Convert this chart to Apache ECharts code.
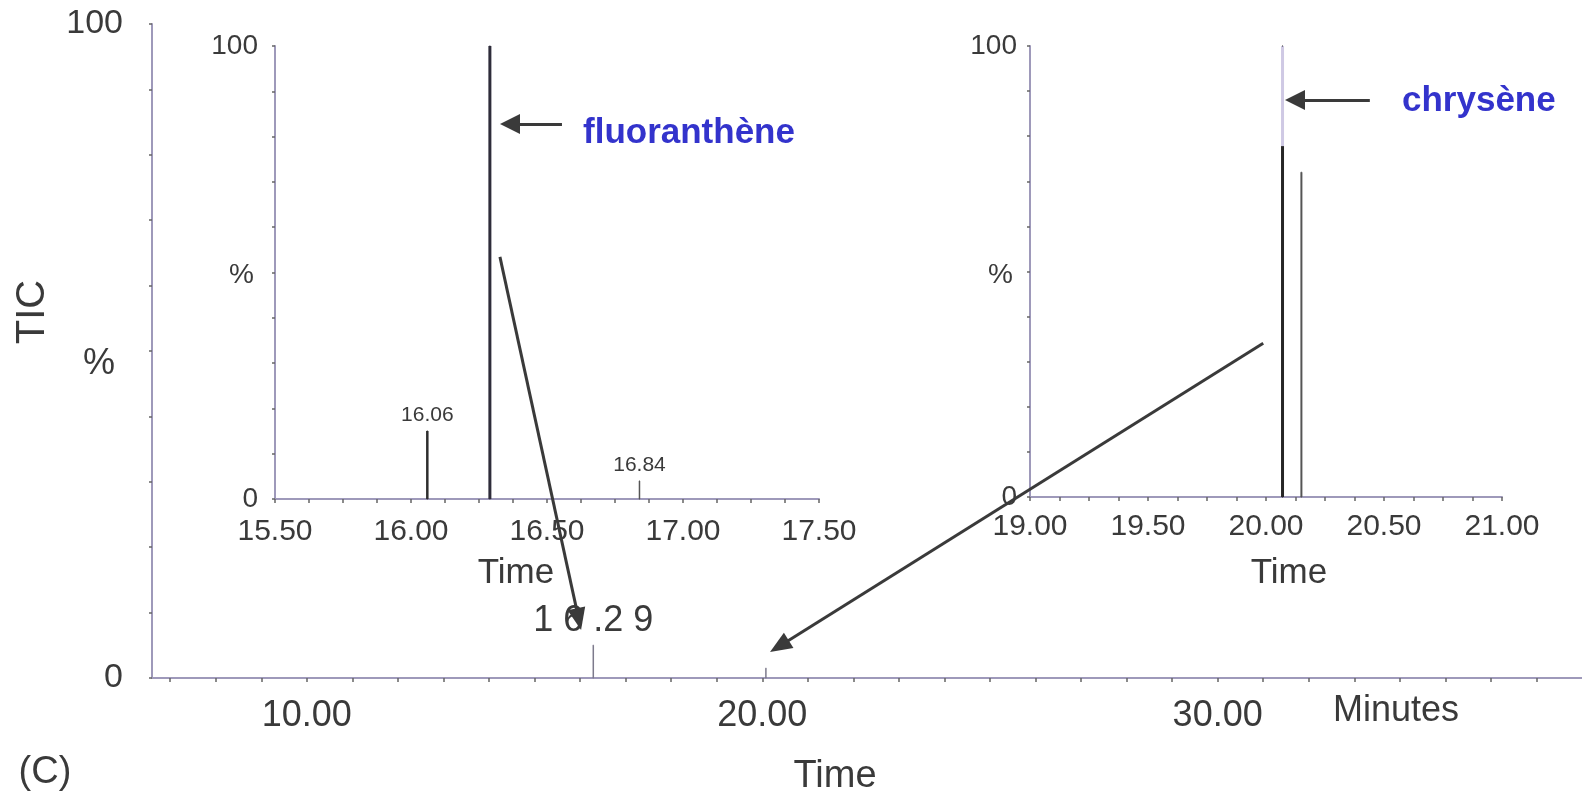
<!DOCTYPE html>
<html><head><meta charset="utf-8">
<script src="https://cdn.jsdelivr.net/npm/echarts@6/dist/echarts.min.js"></script>
<style>html,body{margin:0;padding:0;background:#fff}#c{width:1582px;height:795px}</style>
</head><body><div id="c"></div>
<script>
// ---------- data ----------
const mainPeakTimes = [16.29, 20.08];
const mainPeakHeights = [5, 1.5];
const mainPeakLabels = ['1 6 .2 9', ''];

const inset1PeakTimes = [16.06, 16.29, 16.84];
const inset1PeakHeights = [15, 100, 4];
const inset1PeakLabels = ['16.06', '', '16.84'];

const inset2PeakTimes = [20.07, 20.15];
const inset2PeakHeights = [100, 72];

const mainXTickLabels = [10, 20, 30];
const mainXTicks = [7, 8, 9, 10, 11, 12, 13, 14, 15, 16, 17, 18, 19, 20, 21, 22, 23, 24, 25, 26, 27, 28, 29, 30, 31, 32, 33, 34, 35, 36, 37];
const inset1XTickLabels = [15.5, 16, 16.5, 17, 17.5];
const inset2XTickLabels = [19, 19.5, 20, 20.5, 21];
const yTickLabels = { 0: '0', 50: '{p|%}', 100: '100' };

// annotation arrows (tail, arrow-head centre), in data coordinates of their grid
const fluorArrow = [[16.555, 82.8], [16.364, 82.8]];
const chrysArrow = [[20.44, 88.0], [20.123, 88.0]];
const zoomArrow1 = [[14.24, 64.4], [15.97, 9.0]];
const zoomArrow2 = [[31.0, 51.2], [20.375, 4.86]];

// ---------- styles ----------
const FONT = 'Liberation Sans, Arial, sans-serif';
const AXIS = '#9e99ba';
const TXT = '#3a3a3a';
const BLUE = '#3333cc';

const chart = echarts.init(document.getElementById('c'));

function xAxisCfg(grid, min, max, extra) {
  return Object.assign({
    type: 'value', gridIndex: grid, min: min, max: max,
    axisLine: { show: true, onZero: false, lineStyle: { color: AXIS, width: 2 } },
    axisTick: { show: true, length: 4, lineStyle: { color: '#666', width: 1.5 } },
    splitLine: { show: false },
    axisLabel: { color: TXT, fontFamily: FONT, fontSize: 30, margin: 18,
      formatter: v => v.toFixed(2) }
  }, extra || {});
}
function yAxisCfg(grid, fs, margin, pctFs, pctPad) {
  return {
    type: 'value', gridIndex: grid, min: 0, max: 100, interval: 10,
    axisLine: { show: true, onZero: false, lineStyle: { color: AXIS, width: 2 } },
    axisTick: { show: true, length: 3, lineStyle: { color: '#666', width: 1.5 } },
    splitLine: { show: false },
    axisLabel: { color: TXT, fontFamily: FONT, fontSize: fs, margin: margin,
      rich: { p: { fontSize: pctFs, fontFamily: FONT, color: TXT, padding: pctPad } },
      formatter: v => (yTickLabels[v] !== undefined ? yTickLabels[v] : '') }
  };
}

function peakSeries(times, heights, labels, axisIdx, styleFn, labelCfg) {
  return times.map((t, i) => {
    const ls = styleFn(i);
    return {
      type: 'line', xAxisIndex: axisIdx, yAxisIndex: axisIdx,
      symbol: 'rect', symbolSize: [1, 1], showSymbol: true,
      itemStyle: { color: typeof ls.color === 'string' ? ls.color : '#262626' },
      animation: false, silent: true, z: 3,
      lineStyle: ls,
      data: [
        { value: [t, 0], label: { show: false } },
        { value: [t, heights[i]],
          label: (labels && labels[i]) ? Object.assign({ show: true, position: 'top',
            formatter: labels[i], fontFamily: FONT, color: TXT }, labelCfg) : { show: false } }
      ]
    };
  });
}

function arrow(pair) {
  return [{ coord: pair[0], symbol: 'none' }, { coord: pair[1] }];
}
function arrowSeries(axisIdx, pairs, size) {
  return {
    type: 'line', xAxisIndex: axisIdx, yAxisIndex: axisIdx, data: [], symbol: 'none', animation: false, z: 5,
    markLine: { silent: true, animation: false, label: { show: false },
      lineStyle: { color: '#3a3a3a', width: 3, type: 'solid' },
      itemStyle: { color: '#3a3a3a' },
      symbol: ['none', 'triangle'], symbolSize: size,
      data: pairs.map(arrow) }
  };
}

const chrysGrad = new echarts.graphic.LinearGradient(0, 0, 0, 1, [
  { offset: 0, color: '#cfc9e4' }, { offset: 0.225, color: '#cfc9e4' },
  { offset: 0.226, color: '#262626' }, { offset: 1, color: '#262626' }
]);

const series = [];
// main chromatogram
series.push(...peakSeries(mainPeakTimes, mainPeakHeights, mainPeakLabels, 0,
  i => ({ color: '#7d7a8c', width: 1.5 }), { fontSize: 36, distance: 6 }));
series.push(arrowSeries(0, [zoomArrow1, zoomArrow2], [18, 22]));
// inset 1
series.push(...peakSeries(inset1PeakTimes, inset1PeakHeights, inset1PeakLabels, 1,
  i => (i === 1 ? { color: '#2e2c3a', width: 3 } : i === 0 ? { color: '#2e2e2e', width: 2.5 } : { color: '#555', width: 1.5 }),
  { fontSize: 21, distance: 5 }));
series.push(arrowSeries(1, [fluorArrow], [20, 20]));
// inset 2
series.push(...peakSeries(inset2PeakTimes, inset2PeakHeights, null, 2,
  i => (i === 0 ? { color: chrysGrad, width: 3 } : { color: '#555', width: 2 }), {}));
series.push(arrowSeries(2, [chrysArrow], [20, 20]));

function txt(x, y, text, fs, extra, rot) {
  return { type: 'text', x: x, y: y, rotation: rot || 0, silent: true, z: 10,
    style: Object.assign({ text: text, fontSize: fs, fontFamily: FONT, fill: TXT,
      align: 'center', verticalAlign: 'middle' }, extra || {}) };
}

chart.setOption({
  backgroundColor: '#fff',
  animation: false,
  grid: [
    { left: 152, top: 24, width: 1430, height: 654 },
    { left: 275, top: 46, width: 544, height: 453 },
    { left: 1030, top: 46, width: 472, height: 451 }
  ],
  xAxis: [
    xAxisCfg(0, 6.6, 38, {
      axisTick: { show: true, length: 4, customValues: mainXTicks, lineStyle: { color: '#666', width: 1.5 } },
      axisLabel: { color: TXT, fontFamily: FONT, fontSize: 36, margin: 20,
        customValues: mainXTickLabels, formatter: v => v.toFixed(2) }
    }),
    xAxisCfg(1, 15.5, 17.5, { interval: 0.125,
      axisLabel: { color: TXT, fontFamily: FONT, fontSize: 30, margin: 18,
        customValues: inset1XTickLabels, formatter: v => v.toFixed(2) } }),
    xAxisCfg(2, 19, 21, { interval: 0.125,
      axisLabel: { color: TXT, fontFamily: FONT, fontSize: 30, margin: 15,
        customValues: inset2XTickLabels, formatter: v => v.toFixed(2) } })
  ],
  yAxis: [ yAxisCfg(0, 34, 29, 36, [26, 8, 0, 0]), yAxisCfg(1, 28, 17, 28, [6, 4, 0, 0]), yAxisCfg(2, 28, 13, 28, [8, 4, 0, 0]) ],
  series: series,
  graphic: [
    txt(33, 312, 'TIC', 40, null, Math.PI / 2),
    txt(45, 773, '(C)', 38),
    txt(835, 777, 'Time', 38),
    txt(1396, 711, 'Minutes', 36),
    txt(516, 573, 'Time', 35),
    txt(1289, 573, 'Time', 35),
    txt(583, 133, 'fluoranthène', 35, { fill: BLUE, fontWeight: 'bold', align: 'left' }),
    txt(1402, 101, 'chrysène', 35, { fill: BLUE, fontWeight: 'bold', align: 'left' })
  ]
});
</script></body></html>
